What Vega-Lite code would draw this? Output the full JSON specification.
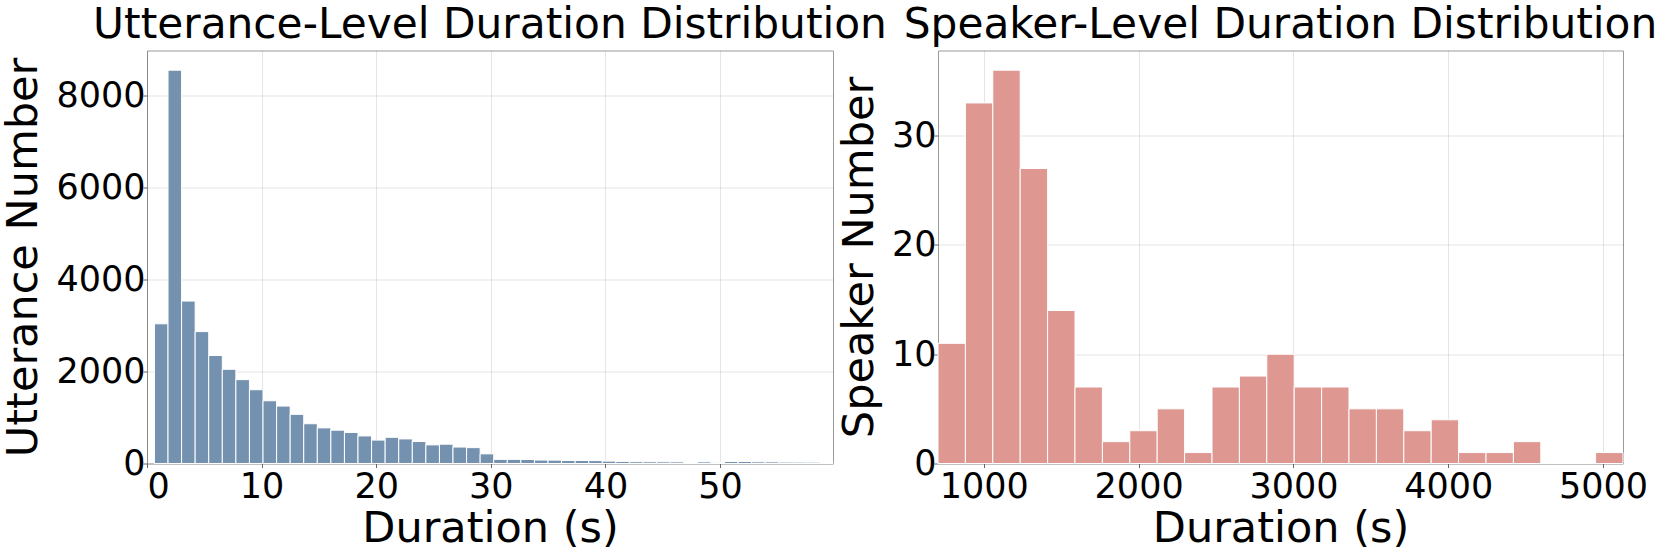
{
  "$schema": "https://vega.github.io/schema/vega-lite/v6.json",
  "padding": {"left": 2, "top": 2.5, "right": 0, "bottom": 0},
  "background": "white",
  "spacing": 105,
  "bounds": "flush",
  "config": {
    "font": "DejaVu Sans",
    "view": {"stroke": "#9a9a9a", "strokeWidth": 1},
    "axis": {
      "labelFont": "DejaVu Sans", "labelFontSize": 35, "labelColor": "black",
      "titleFont": "DejaVu Sans", "titleFontSize": 43, "titleFontWeight": "normal", "titleColor": "black",
      "domain": false, "tickColor": "#666666", "tickSize": 4, "labelPadding": 2,
      "gridColor": "black", "gridOpacity": 0.1, "gridWidth": 1, "zindex": 1, "format": "d"
    },
    "axisY": {"labelPadding": -2, "titlePadding": 10},
    "axisX": {"titlePadding": 3},
    "title": {"font": "DejaVu Sans", "fontSize": 42.3, "fontWeight": "normal", "color": "black", "anchor": "middle", "frame": "group", "baseline": "alphabetic", "offset": 3.5}
  },
  "hconcat": [
    {
      "width": 686, "height": 413,
      "title": {"text": "Utterance-Level Duration Distribution"},
      "data": {"values": [
        {"start": 0.65, "end": 1.834, "count": 3040},
        {"start": 1.834, "end": 3.018, "count": 8560},
        {"start": 3.018, "end": 4.202, "count": 3535},
        {"start": 4.202, "end": 5.386, "count": 2870},
        {"start": 5.386, "end": 6.57, "count": 2350},
        {"start": 6.57, "end": 7.754, "count": 2050},
        {"start": 7.754, "end": 8.938, "count": 1825},
        {"start": 8.938, "end": 10.122, "count": 1605},
        {"start": 10.122, "end": 11.306, "count": 1365},
        {"start": 11.306, "end": 12.49, "count": 1250},
        {"start": 12.49, "end": 13.674, "count": 1070},
        {"start": 13.674, "end": 14.858, "count": 865},
        {"start": 14.858, "end": 16.042, "count": 775},
        {"start": 16.042, "end": 17.226, "count": 725},
        {"start": 17.226, "end": 18.41, "count": 675},
        {"start": 18.41, "end": 19.594, "count": 600},
        {"start": 19.594, "end": 20.778, "count": 510},
        {"start": 20.778, "end": 21.962, "count": 570},
        {"start": 21.962, "end": 23.146, "count": 535},
        {"start": 23.146, "end": 24.33, "count": 478},
        {"start": 24.33, "end": 25.514, "count": 405},
        {"start": 25.514, "end": 26.698, "count": 420},
        {"start": 26.698, "end": 27.882, "count": 358},
        {"start": 27.882, "end": 29.066, "count": 345},
        {"start": 29.066, "end": 30.25, "count": 210},
        {"start": 30.25, "end": 31.434, "count": 90},
        {"start": 31.434, "end": 32.618, "count": 90},
        {"start": 32.618, "end": 33.802, "count": 88},
        {"start": 33.802, "end": 34.986, "count": 75},
        {"start": 34.986, "end": 36.17, "count": 73},
        {"start": 36.17, "end": 37.354, "count": 65},
        {"start": 37.354, "end": 38.538, "count": 65},
        {"start": 38.538, "end": 39.722, "count": 63},
        {"start": 39.722, "end": 40.906, "count": 52},
        {"start": 40.906, "end": 42.09, "count": 45},
        {"start": 42.09, "end": 43.274, "count": 38},
        {"start": 43.274, "end": 44.458, "count": 37},
        {"start": 44.458, "end": 45.642, "count": 36},
        {"start": 45.642, "end": 46.826, "count": 35},
        {"start": 46.826, "end": 48.01, "count": 22},
        {"start": 48.01, "end": 49.194, "count": 35},
        {"start": 49.194, "end": 50.378, "count": 24},
        {"start": 50.378, "end": 51.562, "count": 44},
        {"start": 51.562, "end": 52.746, "count": 44},
        {"start": 52.746, "end": 53.93, "count": 36},
        {"start": 53.93, "end": 55.114, "count": 35},
        {"start": 55.114, "end": 56.298, "count": 30},
        {"start": 56.298, "end": 57.482, "count": 29},
        {"start": 57.482, "end": 58.666, "count": 28},
        {"start": 58.666, "end": 59.85, "count": 22}
      ]},
      "mark": {"type": "bar", "color": "#7491AF", "stroke": "white", "strokeWidth": 1, "opacity": 1},
      "encoding": {
        "x": {"field": "start", "type": "quantitative",
              "scale": {"domain": [0, 59.85], "nice": false, "zero": false},
              "axis": {"title": "Duration (s)", "values": [0, 10, 20, 30, 40, 50]}},
        "x2": {"field": "end"},
        "y": {"field": "count", "type": "quantitative",
              "scale": {"domain": [0, 8988], "nice": false},
              "axis": {"title": "Utterance Number", "values": [0, 2000, 4000, 6000, 8000]}},
        "y2": {"datum": 0}
      }
    },
    {
      "width": 685, "height": 413,
      "title": {"text": "Speaker-Level Duration Distribution"},
      "data": {"values": [
        {"start": 704, "end": 881, "count": 11},
        {"start": 881, "end": 1058, "count": 33},
        {"start": 1058, "end": 1235, "count": 36},
        {"start": 1235, "end": 1412, "count": 27},
        {"start": 1412, "end": 1589, "count": 14},
        {"start": 1589, "end": 1766, "count": 7},
        {"start": 1766, "end": 1943, "count": 2},
        {"start": 1943, "end": 2120, "count": 3},
        {"start": 2120, "end": 2297, "count": 5},
        {"start": 2297, "end": 2474, "count": 1},
        {"start": 2474, "end": 2651, "count": 7},
        {"start": 2651, "end": 2828, "count": 8},
        {"start": 2828, "end": 3005, "count": 10},
        {"start": 3005, "end": 3182, "count": 7},
        {"start": 3182, "end": 3359, "count": 7},
        {"start": 3359, "end": 3536, "count": 5},
        {"start": 3536, "end": 3713, "count": 5},
        {"start": 3713, "end": 3890, "count": 3},
        {"start": 3890, "end": 4067, "count": 4},
        {"start": 4067, "end": 4244, "count": 1},
        {"start": 4244, "end": 4421, "count": 1},
        {"start": 4421, "end": 4598, "count": 2},
        {"start": 4598, "end": 4775, "count": 0},
        {"start": 4775, "end": 4952, "count": 0},
        {"start": 4952, "end": 5129, "count": 1}
      ]},
      "mark": {"type": "bar", "color": "#DE9791", "stroke": "white", "strokeWidth": 1, "opacity": 1},
      "encoding": {
        "x": {"field": "start", "type": "quantitative",
              "scale": {"domain": [704, 5129], "nice": false, "zero": false},
              "axis": {"title": "Duration (s)", "values": [1000, 2000, 3000, 4000, 5000]}},
        "x2": {"field": "end"},
        "y": {"field": "count", "type": "quantitative",
              "scale": {"domain": [0, 37.8], "nice": false},
              "axis": {"title": "Speaker Number", "values": [0, 10, 20, 30]}},
        "y2": {"datum": 0}
      }
    }
  ]
}
